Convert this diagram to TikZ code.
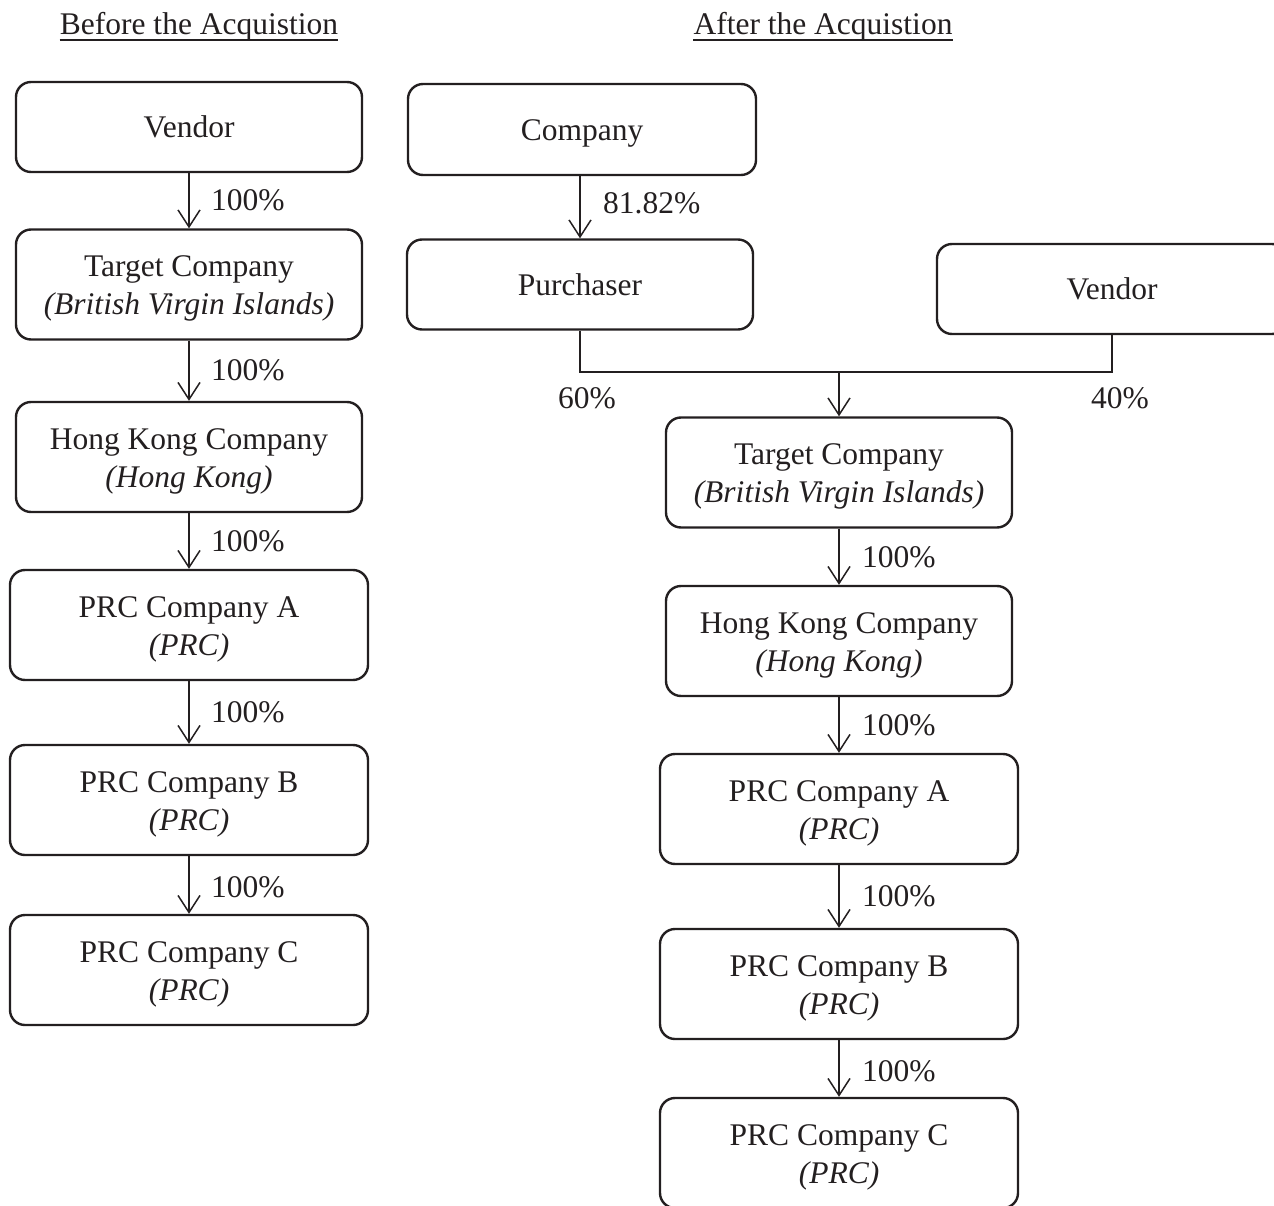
\documentclass[tikz,border=0pt]{standalone}
\usepackage{fontspec}
\setmainfont{Liberation Serif}
\usetikzlibrary{arrows.meta}
\definecolor{ink}{HTML}{231F20}
\begin{document}
\begin{tikzpicture}[x=1pt,y=-1pt,
  font=\fontsize{31.5}{38}\selectfont,
  every node/.style={text=ink},
  box/.style={draw=ink, line width=2.4pt, rounded corners=15pt, inner sep=0pt, align=center},
  boxs/.style={box, minimum width=346pt, minimum height=90pt},
  boxl/.style={box, minimum width=346pt, minimum height=110pt, text height=67pt},
  boxw/.style={box, minimum width=358pt, minimum height=110pt, text height=67pt},
  arr/.style={draw=ink, line width=1.5pt, -{Straight Barb[length=17pt,width=22pt]}},
  conn/.style={draw=ink, line width=1.5pt},
  lab/.style={inner sep=0pt, anchor=west},
  head/.style={inner sep=0pt, anchor=base}
]
\useasboundingbox (0,0) rectangle (1274,1206);

% headings
\node[head] (hb) at (199,35) {Before the Acquistion};
\node[head] (ha) at (823,35) {After the Acquistion};
\draw[ink, line width=1.3pt] ([yshift=-5pt]hb.base west) -- ([yshift=-5pt]hb.base east);
\draw[ink, line width=1.3pt] ([yshift=-5pt]ha.base west) -- ([yshift=-5pt]ha.base east);

% left column
\node[boxs] (lv) at (189,127) {Vendor};
\node[boxl] (lt) at (189,284.5) {Target Company\\\textit{(British Virgin Islands)}};
\node[boxl] (lh) at (189,457) {Hong Kong Company\\\textit{(Hong Kong)}};
\node[boxw] (la) at (189,625) {PRC Company A\\\textit{(PRC)}};
\node[boxw] (lb) at (189,800) {PRC Company B\\\textit{(PRC)}};
\node[boxw] (lc) at (189,970) {PRC Company C\\\textit{(PRC)}};

\draw[arr] (lv) -- (lt);
\draw[arr] (lt) -- (lh);
\draw[arr] (lh) -- (la);
\draw[arr] (la) -- (lb);
\draw[arr] (lb) -- (lc);

\node[lab] (l1) at (211,200) {100\%};
\node[lab] (l2) at (211,370) {100\%};
\node[lab] (l3) at (211,541) {100\%};
\node[lab] (l4) at (211,712) {100\%};
\node[lab] (l5) at (211,887) {100\%};

% right column
\node[box, minimum width=348pt, minimum height=91pt, text height=29pt] (rco) at (582,129.5) {Company};
\node[boxs] (rp) at (580,284.5) {Purchaser};
\node[box, minimum width=350pt, minimum height=90pt] (rv) at (1112,289) {Vendor};
\node[boxl] (rt) at (839,472.5) {Target Company\\\textit{(British Virgin Islands)}};
\node[boxl] (rh) at (839,641) {Hong Kong Company\\\textit{(Hong Kong)}};
\node[boxw] (ra) at (839,809) {PRC Company A\\\textit{(PRC)}};
\node[boxw] (rb) at (839,984) {PRC Company B\\\textit{(PRC)}};
\node[boxw] (rc) at (839,1153) {PRC Company C\\\textit{(PRC)}};

\draw[arr] (rco.south -| rp.south) -- (rp.north);
\coordinate (jl) at (580,372);
\coordinate (jr) at (1112,372);
\coordinate (jm) at (839,372);
\draw[conn] (rp.south) -- (jl) -- (jr) -- (rv.south);
\draw[arr] (jm) -- (rt.north);
\draw[arr] (rt) -- (rh);
\draw[arr] (rh) -- (ra);
\draw[arr] (ra) -- (rb);
\draw[arr] (rb) -- (rc);

\node[lab] (r0) at (603,203) {81.82\%};
\node[inner sep=0pt] (r60) at (587,398) {60\%};
\node[inner sep=0pt] (r40) at (1120,398) {40\%};
\node[lab] (r1) at (862,557) {100\%};
\node[lab] (r2) at (862,725) {100\%};
\node[lab] (r3) at (862,896) {100\%};
\node[lab] (r4) at (862,1071) {100\%};
\end{tikzpicture}
\end{document}
